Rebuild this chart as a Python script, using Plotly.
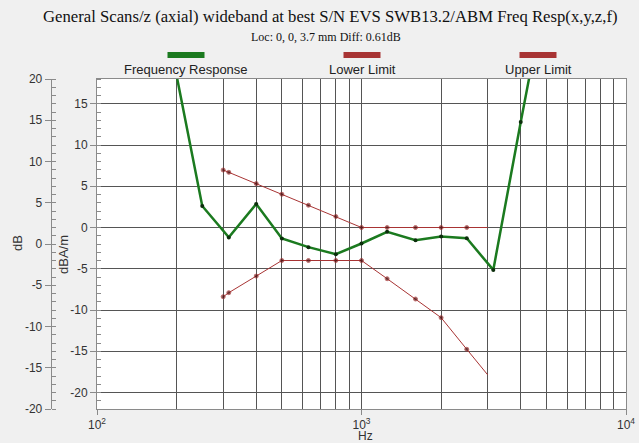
import plotly.graph_objects as go

# ---------------- data ----------------
freq_response_hz = [200, 250, 315, 400, 500, 630, 800, 1000, 1250, 1600, 2000, 2500, 3150, 4000, 5000]
freq_response_db = [18.4, 2.6, -1.2, 2.85, -1.33, -2.38, -3.23, -1.94, -0.53, -1.55, -1.09, -1.31, -5.14, 12.8, 29.0]

limit_hz = [300, 315, 400, 500, 630, 800, 1000, 1250, 1600, 2000, 2500, 3000]
upper_limit_db = [6.97, 6.69, 5.32, 4.03, 2.7, 1.33, 0, 0, 0, 0, 0, 0]
lower_limit_db = [-8.39, -7.9, -5.89, -4.0, -4.0, -4.0, -4.0, -6.21, -8.67, -10.93, -14.76, -17.86]

x_tick_vals = [100, 1000, 10000]
x_tick_text = ["10<sup>2</sup>", "10<sup>3</sup>", "10<sup>4</sup>"]
x_minor_vals = [m * d for d in (100, 1000) for m in range(2, 10)]

inner_tick_vals = [-20, -15, -10, -5, 0, 5, 10, 15]
inner_tick_text = ["-20", "-15", "-10", "-5", "0", "5", "10", "15"]
outer_tick_vals = [-20, -15, -10, -5, 0, 5, 10, 15, 20]
outer_tick_text = ["-20", "-15", "-10", "-5", "0", "5", "10", "15", "20"]

title_text = "General Scans/z (axial) wideband at best S/N EVS SWB13.2/ABM Freq Resp(x,y,z,f)"
subtitle_text = "Loc: 0, 0, 3.7 mm Diff: 0.61dB"
legend_names = ["Frequency Response", "Lower Limit", "Upper Limit"]

# ---------------- style ----------------
W, H = 639, 443
ML, MR, MT, MB = 0, 13, 79, 34
PW = W - ML - MR
PH = H - MT - MB
GREEN = "#1b7a1f"
RED = "#a83434"
GRID = "#555555"
AXIS = "#8a8a8a"
SANS = "Liberation Sans, Arial, sans-serif"
SERIF = "Liberation Serif, Times New Roman, serif"


def px_x(px):
    return (px - ML) / PW


def px_y(py):
    return (H - MB - py) / PH


fig = go.Figure()

fig.add_trace(go.Scatter(
    x=limit_hz, y=upper_limit_db, mode="lines+markers", name=legend_names[2],
    line=dict(color=RED, width=1),
    marker=dict(color="#4a0c0c", size=[4] * (len(limit_hz) - 1) + [0]),
))
fig.add_trace(go.Scatter(
    x=limit_hz, y=lower_limit_db, mode="lines+markers", name=legend_names[1],
    line=dict(color=RED, width=1),
    marker=dict(color="#4a0c0c", size=[4] * (len(limit_hz) - 1) + [0]),
))
fig.add_trace(go.Scatter(
    x=freq_response_hz, y=freq_response_db, mode="lines+markers", name=legend_names[0],
    line=dict(color=GREEN, width=2.5),
    marker=dict(color="#0c2e0c", size=4),
))
# invisible trace so the secondary (dB) axis is drawn
fig.add_trace(go.Scatter(x=[100], y=[0], yaxis="y2", mode="markers",
                         marker=dict(size=1, opacity=0), showlegend=False, hoverinfo="skip"))

fig.update_layout(
    width=W, height=H,
    margin=dict(l=ML, r=MR, t=MT, b=MB, autoexpand=False),
    paper_bgcolor="#f0f0f0",
    plot_bgcolor="#ffffff",
    showlegend=False,
    xaxis=dict(
        type="log", range=[2, 4], domain=[px_x(97), 1], automargin=False,
        tickmode="array", tickvals=x_tick_vals, ticktext=x_tick_text,
        ticks="outside", ticklen=5, tickcolor=AXIS,
        showgrid=True, gridcolor=GRID, gridwidth=1,
        showline=True, linecolor=AXIS, mirror=True,
        tickfont=dict(family=SANS, size=12, color="#333"),
        minor=dict(tickmode="array", tickvals=x_minor_vals, showgrid=True,
                   gridcolor=GRID, gridwidth=1, ticks=""),
        zeroline=False,
    ),
    yaxis=dict(
        range=[-22, 18], automargin=False,
        tickmode="array", tickvals=inner_tick_vals, ticktext=inner_tick_text,
        ticks="outside", ticklen=6, tickcolor=AXIS,
        showgrid=True, gridcolor=GRID, gridwidth=1,
        showline=True, linecolor=AXIS, mirror=True,
        zeroline=False,
        tickfont=dict(family=SANS, size=12, color="#333"),
        minor=dict(tick0=0, dtick=1, ticks="inside", ticklen=4, tickcolor=AXIS, showgrid=False),
    ),
    yaxis2=dict(
        range=[-20, 20], overlaying="y", anchor="free", position=px_x(50.7), side="left",
        automargin=False,
        tickmode="array", tickvals=outer_tick_vals, ticktext=outer_tick_text,
        ticks="outside", ticklen=6, tickcolor=AXIS,
        showgrid=False, zeroline=False,
        showline=True, linecolor=AXIS,
        tickfont=dict(family=SANS, size=12, color="#333"),
        minor=dict(tick0=0, dtick=1, ticks="inside", ticklen=4, tickcolor=AXIS, showgrid=False),
    ),
)

annotations = [
    dict(text=title_text, x=px_x(330), y=px_y(17), font=dict(family=SERIF, size=16.7, color="#111")),
    dict(text=subtitle_text, x=px_x(326), y=px_y(37), font=dict(family=SERIF, size=12, color="#111")),
    dict(text="Hz", x=px_x(365), y=px_y(436), font=dict(family=SANS, size=12, color="#333")),
    dict(text="dB", x=px_x(17), y=px_y(243), textangle=-90, font=dict(family=SANS, size=13, color="#333")),
    dict(text="dBA/m", x=px_x(63), y=px_y(255), textangle=-90, font=dict(family=SANS, size=13, color="#333")),
]
legend_centers = [186, 362, 538]
legend_colors = [GREEN, RED, RED]
shapes = []
for name, cx, col in zip(legend_names, legend_centers, legend_colors):
    annotations.append(dict(text=name, x=px_x(cx), y=px_y(70),
                            font=dict(family=SANS, size=13, color="#222")))
    shapes.append(dict(type="rect", xref="paper", yref="paper",
                       x0=px_x(cx - 18.5), x1=px_x(cx + 18.5), y0=px_y(58), y1=px_y(52),
                       fillcolor=col, line=dict(width=0)))

for a in annotations:
    a.update(xref="paper", yref="paper", showarrow=False, xanchor="center", yanchor="middle")

fig.update_layout(annotations=annotations, shapes=shapes)

fig.write_html("out.html", config={"displayModeBar": False},
               post_script="document.body.style.margin='0px';")
